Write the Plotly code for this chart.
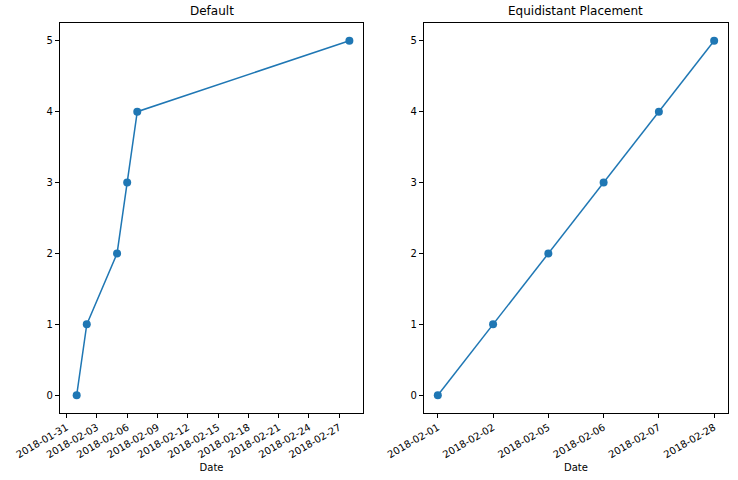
import plotly.graph_objects as go

# data
dates = ["2018-02-01", "2018-02-02", "2018-02-05", "2018-02-06", "2018-02-07", "2018-02-28"]
values = [0, 1, 2, 3, 4, 5]

blue = "#1f77b4"
font = dict(family="DejaVu Sans", size=10, color="black")

fig = go.Figure()
fig.add_trace(go.Scatter(x=dates, y=values, mode="lines+markers",
                         line=dict(color=blue, width=1.5),
                         marker=dict(color=blue, size=8),
                         xaxis="x", yaxis="y", showlegend=False))
fig.add_trace(go.Scatter(x=dates, y=values, mode="lines+markers",
                         line=dict(color=blue, width=1.5),
                         marker=dict(color=blue, size=8),
                         xaxis="x2", yaxis="y2", showlegend=False))

axis_style = dict(showline=True, mirror=True, linecolor="black", linewidth=1,
                  ticks="outside", ticklen=4, tickcolor="black", showgrid=False,
                  zeroline=False, tickfont=font, automargin=False)

fig.update_layout(
    width=738, height=480,
    margin=dict(l=0, r=0, t=0, b=0, autoexpand=False),
    paper_bgcolor="white", plot_bgcolor="white",
    font=font,
    xaxis=dict(domain=[0.0813, 0.4919], type="date",
               range=["2018-01-30 08:24", "2018-03-01 08:24"],
               tick0="2018-01-31", dtick=3 * 86400000, tickformat="%Y-%m-%d",
               tickangle=-30, title=dict(text="Date", font=font, standoff=4),
               anchor="y", **axis_style),
    yaxis=dict(domain=[0.1396, 0.952], range=[-0.25, 5.25], dtick=1,
               anchor="x", **axis_style),
    xaxis2=dict(domain=[0.5745, 0.9864], type="category", range=[-0.25, 5.25],
                tickangle=-30, title=dict(text="Date", font=font, standoff=4),
                anchor="y2", **axis_style),
    yaxis2=dict(domain=[0.1396, 0.952], range=[-0.25, 5.25], dtick=1,
                anchor="x2", **axis_style),
    annotations=[
        dict(text="Default", x=(0.0813 + 0.4919) / 2, y=0.952, xref="paper", yref="paper",
             xanchor="center", yanchor="bottom", yshift=3, showarrow=False,
             font=dict(family="DejaVu Sans", size=12, color="black")),
        dict(text="Equidistant Placement", x=(0.5745 + 0.9864) / 2, y=0.952,
             xref="paper", yref="paper", xanchor="center", yanchor="bottom", yshift=3,
             showarrow=False, font=dict(family="DejaVu Sans", size=12, color="black")),
    ],
)

fig.write_html("out.html", config={"displayModeBar": False},
               post_script="document.body.style.margin='0';")
